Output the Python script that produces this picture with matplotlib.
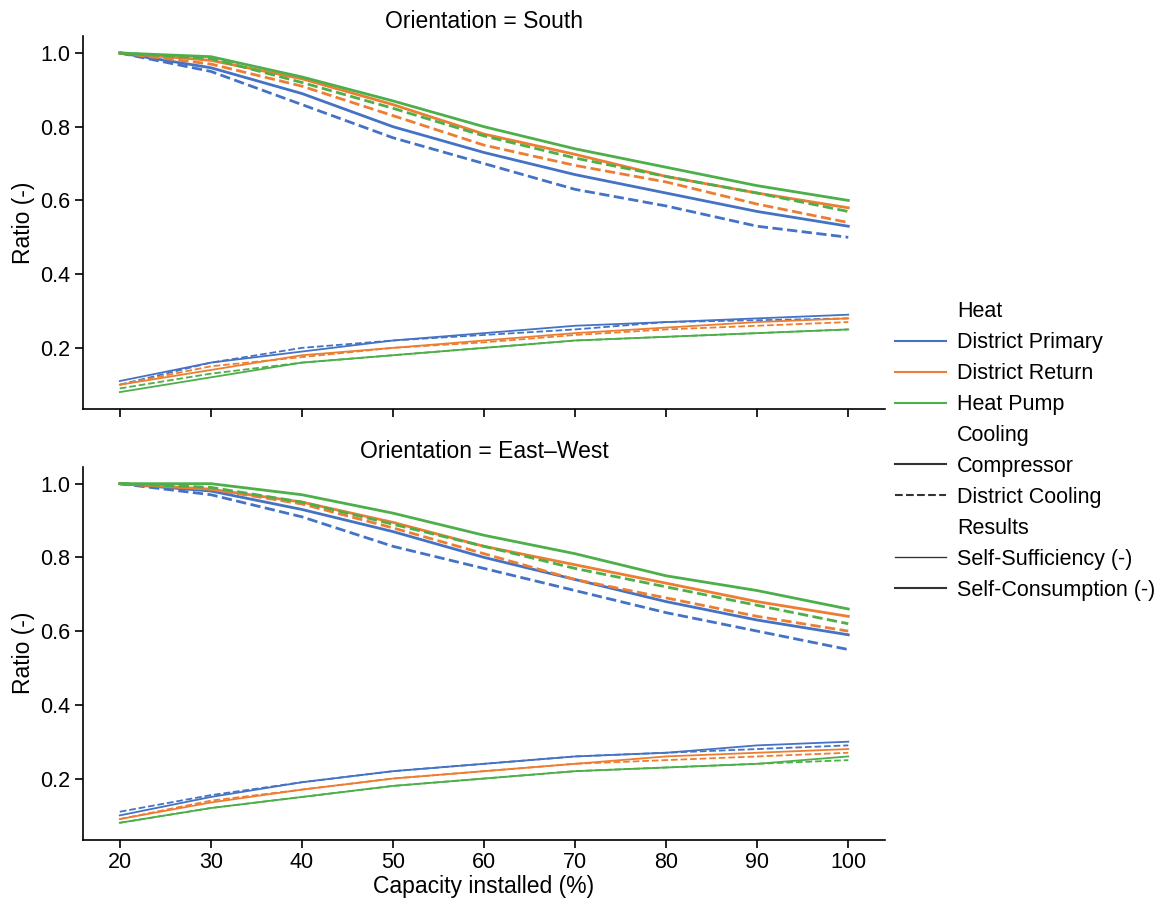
import matplotlib.pyplot as plt
from matplotlib.lines import Line2D

plt.rcParams['font.family'] = ['Liberation Sans', 'DejaVu Sans']

capacity = [20, 30, 40, 50, 60, 70, 80, 90, 100]
orientations = ['South', 'East\u2013West']
heats = ['District Primary', 'District Return', 'Heat Pump']
coolings = ['Compressor', 'District Cooling']
results_names = ['Self-Sufficiency (-)', 'Self-Consumption (-)']

# South - self-consumption
sc_south_dp_comp = [1.0, 0.96, 0.89, 0.80, 0.73, 0.67, 0.62, 0.57, 0.53]
sc_south_dp_dc = [1.0, 0.95, 0.86, 0.77, 0.70, 0.63, 0.585, 0.53, 0.50]
sc_south_dr_comp = [1.0, 0.98, 0.93, 0.86, 0.78, 0.725, 0.665, 0.62, 0.58]
sc_south_dr_dc = [1.0, 0.97, 0.91, 0.83, 0.75, 0.695, 0.65, 0.59, 0.54]
sc_south_hp_comp = [1.0, 0.99, 0.935, 0.87, 0.80, 0.74, 0.69, 0.64, 0.60]
sc_south_hp_dc = [1.0, 0.985, 0.92, 0.85, 0.775, 0.715, 0.665, 0.62, 0.57]
# South - self-sufficiency
ss_south_dp_comp = [0.11, 0.16, 0.19, 0.22, 0.24, 0.26, 0.27, 0.28, 0.29]
ss_south_dp_dc = [0.10, 0.16, 0.20, 0.22, 0.235, 0.25, 0.27, 0.275, 0.28]
ss_south_dr_comp = [0.10, 0.14, 0.18, 0.20, 0.22, 0.24, 0.255, 0.27, 0.28]
ss_south_dr_dc = [0.10, 0.15, 0.175, 0.20, 0.215, 0.235, 0.25, 0.26, 0.27]
ss_south_hp_comp = [0.08, 0.12, 0.16, 0.18, 0.20, 0.22, 0.23, 0.24, 0.25]
ss_south_hp_dc = [0.09, 0.13, 0.16, 0.18, 0.20, 0.22, 0.23, 0.24, 0.25]

# East-West - self-consumption
sc_ew_dp_comp = [1.0, 0.98, 0.93, 0.87, 0.80, 0.74, 0.68, 0.63, 0.59]
sc_ew_dp_dc = [1.0, 0.97, 0.91, 0.83, 0.77, 0.71, 0.65, 0.60, 0.55]
sc_ew_dr_comp = [1.0, 0.985, 0.95, 0.895, 0.83, 0.78, 0.73, 0.68, 0.64]
sc_ew_dr_dc = [1.0, 0.985, 0.945, 0.88, 0.81, 0.74, 0.69, 0.64, 0.60]
sc_ew_hp_comp = [1.0, 1.0, 0.97, 0.92, 0.86, 0.81, 0.75, 0.71, 0.66]
sc_ew_hp_dc = [1.0, 0.99, 0.95, 0.89, 0.83, 0.77, 0.72, 0.67, 0.62]
# East-West - self-sufficiency
ss_ew_dp_comp = [0.10, 0.15, 0.19, 0.22, 0.24, 0.26, 0.27, 0.29, 0.30]
ss_ew_dp_dc = [0.11, 0.155, 0.19, 0.22, 0.24, 0.26, 0.27, 0.28, 0.29]
ss_ew_dr_comp = [0.09, 0.135, 0.17, 0.20, 0.22, 0.24, 0.26, 0.27, 0.28]
ss_ew_dr_dc = [0.09, 0.14, 0.17, 0.20, 0.22, 0.24, 0.25, 0.26, 0.27]
ss_ew_hp_comp = [0.08, 0.12, 0.15, 0.18, 0.20, 0.22, 0.23, 0.24, 0.26]
ss_ew_hp_dc = [0.08, 0.12, 0.15, 0.18, 0.20, 0.22, 0.23, 0.24, 0.25]

data = {
    'South': {
        'Self-Sufficiency (-)': [[ss_south_dp_comp, ss_south_dp_dc],
                                 [ss_south_dr_comp, ss_south_dr_dc],
                                 [ss_south_hp_comp, ss_south_hp_dc]],
        'Self-Consumption (-)': [[sc_south_dp_comp, sc_south_dp_dc],
                                 [sc_south_dr_comp, sc_south_dr_dc],
                                 [sc_south_hp_comp, sc_south_hp_dc]],
    },
    'East\u2013West': {
        'Self-Sufficiency (-)': [[ss_ew_dp_comp, ss_ew_dp_dc],
                                 [ss_ew_dr_comp, ss_ew_dr_dc],
                                 [ss_ew_hp_comp, ss_ew_hp_dc]],
        'Self-Consumption (-)': [[sc_ew_dp_comp, sc_ew_dp_dc],
                                 [sc_ew_dr_comp, sc_ew_dr_dc],
                                 [sc_ew_hp_comp, sc_ew_hp_dc]],
    },
}

colors = ['#4472c4', '#ed7d31', '#4daf4a']
dashes = ['-', '--']
widths = {'Self-Sufficiency (-)': 1.3, 'Self-Consumption (-)': 2.0}

fig = plt.figure(figsize=(11.58, 9.01), dpi=100)
ax_top = fig.add_axes([0.072, 0.546, 0.692, 0.414])
ax_bot = fig.add_axes([0.072, 0.068, 0.692, 0.414], sharex=ax_top)

for ax, orient in zip([ax_top, ax_bot], orientations):
    for res in results_names:
        for h, heat in enumerate(heats):
            for c, cool in enumerate(coolings):
                ax.plot(capacity, data[orient][res][h][c], color=colors[h],
                        linestyle=dashes[c], linewidth=widths[res])
    ax.set_title('Orientation = ' + orient, fontsize=16.5)
    ax.set_ylabel('Ratio (-)', fontsize=16.5)
    ax.spines['top'].set_visible(False)
    ax.spines['right'].set_visible(False)
    ax.spines['left'].set_linewidth(1.2)
    ax.spines['bottom'].set_linewidth(1.2)
    ax.tick_params(labelsize=15.5, length=6, width=1.2)
    ax.tick_params(axis='x', pad=2.5)
    ax.set_yticks([0.2, 0.4, 0.6, 0.8, 1.0])
    ax.set_xlim(16, 104)
    ax.set_ylim(0.034, 1.046)

ax_top.tick_params(labelbottom=False)
ax_bot.set_xticks(capacity)
ax_bot.set_xlabel('Capacity installed (%)', fontsize=16.5, labelpad=2)

# legend like seaborn's, with sub-titles as blank entries
blank = Line2D([], [], linestyle='', color='none')
handles = [blank]
labels = ['Heat']
for h, heat in enumerate(heats):
    handles.append(Line2D([], [], color=colors[h], linewidth=1.5))
    labels.append(heat)
handles.append(blank)
labels.append('Cooling')
for c, cool in enumerate(coolings):
    handles.append(Line2D([], [], color='#333333', linestyle=dashes[c], linewidth=1.5))
    labels.append(cool)
handles.append(blank)
labels.append('Results')
for res in results_names:
    handles.append(Line2D([], [], color='#333333', linewidth=widths[res] * 0.75))
    labels.append(res)

fig.legend(handles, labels, loc='upper left', bbox_to_anchor=(0.756, 0.687),
           frameon=False, fontsize=15.5, handlelength=2.4, handletextpad=0.5,
           labelspacing=0.46)

fig.savefig('out.png', dpi=100)
